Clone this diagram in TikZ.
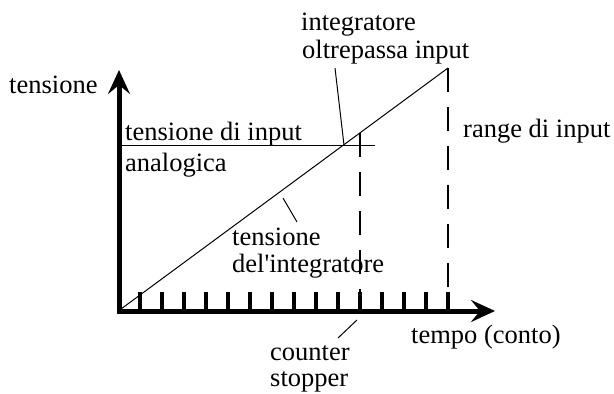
\documentclass[tikz,border=0pt]{standalone}
\usepackage{fontspec}
\setmainfont{Liberation Serif}
\usetikzlibrary{arrows.meta}
\begin{document}
\begin{tikzpicture}[x=1pt,y=-1pt,
  lbl/.style={anchor=base west,inner sep=0pt,font=\fontsize{26.5}{28}\selectfont},
  axisline/.style={line width=5pt,-{Stealth[length=24pt,width=22pt,inset=9pt]}},
  tickline/.style={line width=4.5pt},
  thinline/.style={line width=1pt},
  dashline/.style={line width=1.5pt,dash pattern=on 24pt off 15pt}]
\useasboundingbox (0,0) rectangle (614,394);
\coordinate (O) at (119,311);
\coordinate (Ytop) at (119,70);
\coordinate (Xend) at (495,311);
\coordinate (Dstart) at (121,309);
\coordinate (Dtop) at (448,68);
\coordinate (Lstart) at (119,145);
\coordinate (Lend) at (375,145);
\coordinate (Cross) at (344,145);
\coordinate (Stop) at (360,133);
\coordinate (StopB) at (360,311);
\coordinate (RangeB) at (448,311);
% ticks
\foreach \k in {0,...,14}{
  \draw[tickline] ({140+22*\k},292) -- ({140+22*\k},311);
}
% axes
\draw[axisline] ([yshift=-2.5pt]O) -- (Ytop);
\draw[axisline] ([xshift=-2.5pt]O) -- (Xend);
% diagonal and input line
\draw[thinline] (Dstart) -- (Dtop);
\draw[thinline] (Lstart) -- (Lend);
% dashed verticals
\draw[dashline] (Stop) -- (StopB);
\draw[dashline] (Dtop) -- (RangeB);
% labels
\node[lbl] (ten) at (9,93) {tensione};
\node[lbl] (tin) at (125,140) {tensione di input};
\node[lbl] (ana) at (125,171) {analogica};
\node[lbl] (int) at (301,30) {integratore};
\node[lbl] (olt) at (302,58) {oltrepassa input};
\node[lbl] (ran) at (463,137) {range di input};
\node[lbl] (ti) at (232,245) {tensione};
\node[lbl] (di) at (232,272) {del\textquotesingle integratore};
\node[lbl] (tem) at (411,343) {tempo (conto)};
\node[lbl] (cou) at (270,360) {counter};
\node[lbl] (sto) at (270,386) {stopper};
% leaders
\coordinate (L1a) at (335,68);
\coordinate (L2a) at (283,198);
\coordinate (L2b) at (297,222);
\coordinate (L3a) at (357,320);
\coordinate (L3b) at (338,338);
\draw[thinline] (L1a) -- (Cross);
\draw[thinline] (L2a) -- (L2b);
\draw[thinline] (L3a) -- (L3b);
\end{tikzpicture}
\end{document}
